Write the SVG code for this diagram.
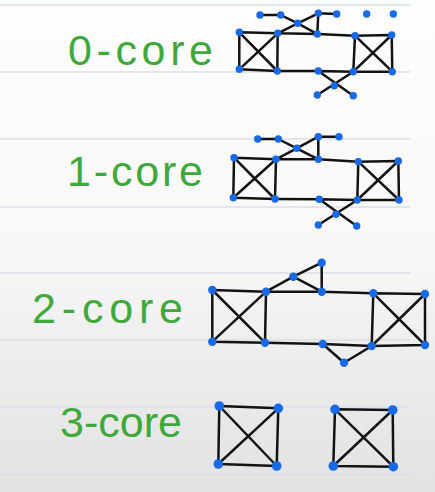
<svg xmlns="http://www.w3.org/2000/svg" width="435" height="492" viewBox="0 0 435 492">
<defs>
<linearGradient id="bg" x1="0" y1="0" x2="0" y2="1">
<stop offset="0" stop-color="#fdfdfd"/>
<stop offset="0.5" stop-color="#f8f8f8"/>
<stop offset="0.75" stop-color="#ececec"/>
<stop offset="1" stop-color="#e2e2e2"/>
</linearGradient>
<style>
.rule{stroke:#d7dfe7;stroke-width:1.6}
.lbl{font-family:"Liberation Sans","Open Sans",sans-serif;font-size:43px;fill:#3fa83a}
.e{stroke:#121212;stroke-width:2.5;stroke-linecap:round;stroke-linejoin:round;fill:none}
.n circle{fill:#1769e6}
</style>
</defs>
<rect width="435" height="492" fill="url(#bg)"/>
<g id="rules">
<line class="rule" x1="0" y1="5" x2="410" y2="5"/>
<line class="rule" x1="0" y1="72" x2="410" y2="72"/>
<line class="rule" x1="0" y1="139" x2="410" y2="139"/>
<line class="rule" x1="0" y1="207" x2="410" y2="207"/>
<line class="rule" x1="0" y1="273" x2="410" y2="273"/>
<line class="rule" x1="0" y1="340" x2="410" y2="340"/>
<line class="rule" x1="0" y1="407" x2="410" y2="407"/>
<line class="rule" x1="0" y1="474" x2="410" y2="474"/>
</g>
<g id="labels">
<text class="lbl" x="68" y="65" textLength="145" lengthAdjust="spacing">0-core</text>
<text class="lbl" x="67" y="186" textLength="136" lengthAdjust="spacing">1-core</text>
<text class="lbl" x="32" y="323" textLength="151" lengthAdjust="spacing">2-core</text>
<text class="lbl" x="60" y="437" textLength="122" lengthAdjust="spacing">3-core</text>
</g>
<g id="connectors" class="e">
<!-- 0-core -->
<path d="M260,15L280.7,15L297.7,23.3L317.3,34M297.7,23.3L277.7,33.3M297.7,23.3L318.3,13.3L336.7,14M318.3,13.3L317.3,34M277.7,33.3L317.3,34L355,35.7"/>
<path d="M239.3,32.3L277.7,33.3L277.3,71L239.3,69.3ZM239.3,32.3L277.3,71M277.7,33.3L239.3,69.3"/>
<path d="M355,35.7L391.7,35L392.3,71.7L353.3,71.7ZM355,35.7L392.3,71.7M391.7,35L353.3,71.7"/>
<path d="M277.3,71L318.3,71L353.3,71.7M318.3,71L353.3,95.7M353.3,71.7L317.3,95"/>
<!-- 1-core -->
<path d="M257.7,139L278.3,139L296.7,148.3L318.3,159.3M296.7,148.3L276,159.3M296.7,148.3L318.3,136.7L339,136.7M318.3,136.7L318.3,159.3M276,159.3L318.3,159.3L358.3,161.7"/>
<path d="M234,157.7L276,159.3L275,199L233.3,197.7ZM234,157.7L275,199M276,159.3L233.3,197.7"/>
<path d="M358.3,161.7L398.3,161L399,200L357.3,200ZM358.3,161.7L399,200M398.3,161L357.3,200"/>
<path d="M275,199L319.3,199.3L357.3,200M319.3,199.3L356.7,226M357.3,200L318.3,225"/>
<!-- 2-core -->
<path d="M266,291.7L293.3,276.7L321.7,262.7L321.7,291.7L293.3,276.7M266,291.7L321.7,291.7L373.3,293.3"/>
<path d="M212.3,290L266,291.7L265,342.7L212.3,341.7ZM212.3,290L265,342.7M266,291.7L212.3,341.7"/>
<path d="M373.3,293.3L425,294L425,345L371.7,346ZM373.3,293.3L425,345M425,294L371.7,346"/>
<path d="M265,342.7L322.7,344L371.7,346M322.7,344L344,362.7L371.7,346"/>
<!-- 3-core -->
<path d="M219.3,406L278.3,408.3L276.7,466L218.3,464ZM219.3,406L276.7,466M278.3,408.3L218.3,464"/>
<path d="M335,409.3L392.7,410L393.3,466.7L333.3,466ZM335,409.3L393.3,466.7M392.7,410L333.3,466"/>
</g>
<g id="core0" class="n">
<g id="c0-a"><circle cx="260" cy="15" r="3.7"/></g>
<g id="c0-b"><circle cx="280.7" cy="15" r="3.7"/></g>
<g id="c0-c"><circle cx="297.7" cy="23.3" r="3.7"/></g>
<g id="c0-d"><circle cx="318.3" cy="13.3" r="3.7"/></g>
<g id="c0-e"><circle cx="336.7" cy="14" r="3.7"/></g>
<g id="c0-f"><circle cx="366.7" cy="14" r="3.7"/></g>
<g id="c0-g"><circle cx="393.3" cy="14" r="3.7"/></g>
<g id="c0-h"><circle cx="317.3" cy="34" r="3.7"/></g>
<g id="c0-ltl"><circle cx="239.3" cy="32.3" r="3.7"/></g>
<g id="c0-ltr"><circle cx="277.7" cy="33.3" r="3.7"/></g>
<g id="c0-lbl"><circle cx="239.3" cy="69.3" r="3.7"/></g>
<g id="c0-lbr"><circle cx="277.3" cy="71" r="3.7"/></g>
<g id="c0-rtl"><circle cx="355" cy="35.7" r="3.7"/></g>
<g id="c0-rtr"><circle cx="391.7" cy="35" r="3.7"/></g>
<g id="c0-rbl"><circle cx="353.3" cy="71.7" r="3.7"/></g>
<g id="c0-rbr"><circle cx="392.3" cy="71.7" r="3.7"/></g>
<g id="c0-m"><circle cx="318.3" cy="71" r="3.7"/></g>
<g id="c0-x"><circle cx="334.3" cy="85.7" r="3.7"/></g>
<g id="c0-p"><circle cx="317.3" cy="95" r="3.7"/></g>
<g id="c0-q"><circle cx="353.3" cy="95.7" r="3.7"/></g>
</g>
<g id="core1" class="n">
<g id="c1-a"><circle cx="257.7" cy="139" r="3.7"/></g>
<g id="c1-b"><circle cx="278.3" cy="139" r="3.7"/></g>
<g id="c1-c"><circle cx="296.7" cy="148.3" r="3.7"/></g>
<g id="c1-d"><circle cx="318.3" cy="136.7" r="3.7"/></g>
<g id="c1-e"><circle cx="339" cy="136.7" r="3.7"/></g>
<g id="c1-h"><circle cx="318.3" cy="159.3" r="3.7"/></g>
<g id="c1-ltl"><circle cx="234" cy="157.7" r="3.7"/></g>
<g id="c1-ltr"><circle cx="276" cy="159.3" r="3.7"/></g>
<g id="c1-lbl"><circle cx="233.3" cy="197.7" r="3.7"/></g>
<g id="c1-lbr"><circle cx="275" cy="199" r="3.7"/></g>
<g id="c1-rtl"><circle cx="358.3" cy="161.7" r="3.7"/></g>
<g id="c1-rtr"><circle cx="398.3" cy="161" r="3.7"/></g>
<g id="c1-rbl"><circle cx="357.3" cy="200" r="3.7"/></g>
<g id="c1-rbr"><circle cx="399" cy="200" r="3.7"/></g>
<g id="c1-m"><circle cx="319.3" cy="199.3" r="3.7"/></g>
<g id="c1-x"><circle cx="336" cy="214.3" r="3.7"/></g>
<g id="c1-p"><circle cx="318.3" cy="225" r="3.7"/></g>
<g id="c1-q"><circle cx="356.7" cy="226" r="3.7"/></g>
</g>
<g id="core2" class="n">
<g id="c2-c"><circle cx="293.3" cy="276.7" r="4.2"/></g>
<g id="c2-d"><circle cx="321.7" cy="262.7" r="4.2"/></g>
<g id="c2-h"><circle cx="321.7" cy="291.7" r="4.2"/></g>
<g id="c2-ltl"><circle cx="212.3" cy="290" r="4.2"/></g>
<g id="c2-ltr"><circle cx="266" cy="291.7" r="4.2"/></g>
<g id="c2-lbl"><circle cx="212.3" cy="341.7" r="4.2"/></g>
<g id="c2-lbr"><circle cx="265" cy="342.7" r="4.2"/></g>
<g id="c2-rtl"><circle cx="373.3" cy="293.3" r="4.2"/></g>
<g id="c2-rtr"><circle cx="425" cy="294" r="4.2"/></g>
<g id="c2-rbl"><circle cx="371.7" cy="346" r="4.2"/></g>
<g id="c2-rbr"><circle cx="425" cy="345" r="4.2"/></g>
<g id="c2-m"><circle cx="322.7" cy="344" r="4.2"/></g>
<g id="c2-x"><circle cx="344" cy="362.7" r="4.2"/></g>
</g>
<g id="core3" class="n">
<g id="c3-ltl"><circle cx="219.3" cy="406" r="4.8"/></g>
<g id="c3-ltr"><circle cx="278.3" cy="408.3" r="4.8"/></g>
<g id="c3-lbl"><circle cx="218.3" cy="464" r="4.8"/></g>
<g id="c3-lbr"><circle cx="276.7" cy="466" r="4.8"/></g>
<g id="c3-rtl"><circle cx="335" cy="409.3" r="4.8"/></g>
<g id="c3-rtr"><circle cx="392.7" cy="410" r="4.8"/></g>
<g id="c3-rbl"><circle cx="333.3" cy="466" r="4.8"/></g>
<g id="c3-rbr"><circle cx="393.3" cy="466.7" r="4.8"/></g>
</g>
</svg>
